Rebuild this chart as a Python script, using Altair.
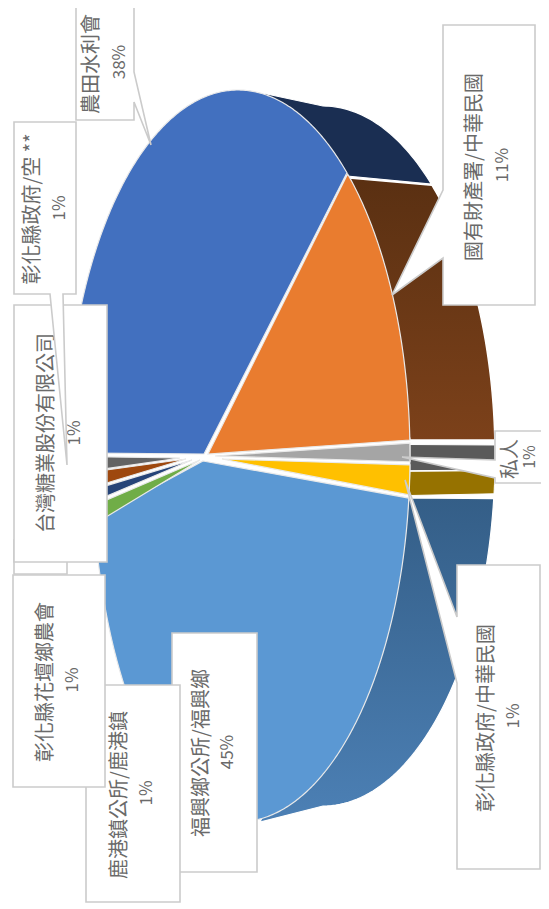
import numpy as np
import pandas as pd
import altair as alt

# ---- chart values ----
owners = ["農田水利會", "國有財產署/中華民國", "私人", "彰化縣政府/中華民國", "福興鄉公所/福興鄉",
          "鹿港鎮公所/鹿港鎮", "彰化縣花壇鄉農會", "台灣糖業股份有限公司", "彰化縣政府/空 **"]
shares = ["38%", "11%", "1%", "1%", "45%", "1%", "1%", "1%", "1%"]

# slice boundaries on the rim, degrees clockwise from the right-hand point
top_names = ["blue", "orange", "gray", "yellow", "ltblue", "green", "navy", "brown", "dkgray"]
top_from = [180.5, 309.6, 358.0, 361.4, 366.6, 529.3, 532.8, 535.1, 537.7]
top_to = [309.3, 357.5, 360.9, 366.1, 530.0, 532.2, 534.7, 537.5, 539.9]
top_colors = ["#4270bf", "#e97c2f", "#a5a5a5", "#ffc000", "#5b98d3", "#70ad47", "#264478", "#9e480e", "#636363"]
apex_x = [204, 208, 215, 222, 203, 200, 192, 186, 180]
apex_y = [454, 454, 456, 459, 461, 460, 460, 459, 458]

wall_from = [270, 309.3, 358.2, 362.4, 367]
wall_to = [309.0, 357.4, 362.3, 366.2, 450]

CX, CY, A, B = 238, 456, 172, 366
WX, WA, WB = 323, 172, 350
LEFT_A = 146


def rim(t):
    r = np.radians(t)
    c, s = np.cos(r), np.sin(r)
    a = np.where((c < 0) & (s > 0), LEFT_A, A)
    return CX + a * c, CY + B * s


def wall(t):
    r = np.radians(t)
    return WX + WA * np.cos(r), CY + WB * np.sin(r)


def frame(xs, ys):
    return pd.DataFrame({"x": list(map(float, xs)), "y": list(map(float, ys)), "i": range(len(xs))})


X = alt.X("x:Q", scale=alt.Scale(domain=[8, 541]), axis=None)
Y = alt.Y("y:Q", scale=alt.Scale(domain=[903, 8]), axis=None)


def poly(xs, ys, fill, stroke, sw):
    return alt.Chart(frame(xs, ys)).mark_line(
        fill=fill, stroke=stroke, strokeWidth=sw, interpolate="linear-closed", clip=True
    ).encode(x=X, y=Y, order=alt.Order("i:Q"))


def label(x, y, text, size):
    d = pd.DataFrame({"x": [float(x)], "y": [float(y)], "t": [text]})
    return alt.Chart(d).mark_text(
        angle=270, fontSize=size, font="Noto Sans CJK TC", color="#6a6a6a", clip=False
    ).encode(x=X, y=Y, text="t:N")


def grad(c1, c2):
    return alt.Gradient(gradient="linear", x1=0, x2=0, y1=0, y2=1,
                        stops=[alt.GradientStop(color=c1, offset=0), alt.GradientStop(color=c2, offset=1)])


layers = []

# side walls
T = np.linspace(wall_from[0], wall_to[0], 40)
wx, wy = wall(T)
layers.append(poly(list(wx) + [347, 262], list(wy) + [176, 93], "#1a2e52", "#ffffff", 1.2))

T = np.linspace(wall_from[1], wall_to[1], 50)
wx, wy = wall(T)
layers.append(poly([349] + list(wx) + [410], [178] + list(wy) + [440], grad("#5a3012", "#7c411a"), "#ffffff", 1.5))

for k, col in ((2, "#5a5a5a"), (3, "#967200")):
    T = np.linspace(wall_from[k], wall_to[k], 6)
    wx, wy = wall(T)
    rx, ry = rim(np.array([wall_to[k], wall_from[k]]))
    layers.append(poly(list(wx) + list(rx), list(wy) + list(ry), col, "#ffffff", 1))

T = np.linspace(wall_from[4], wall_to[4], 60)
wx, wy = wall(T)
layers.append(poly([410] + list(wx) + [260], [498] + list(wy) + [822], grad("#345e87", "#4c80b5"), "#ffffff", 1.2))

# top surface
for n, a0, a1, col, ax, ay in zip(top_names, top_from, top_to, top_colors, apex_x, apex_y):
    T = np.linspace(a0, a1, max(int(abs(a1 - a0)) * 2, 4))
    rx, ry = rim(T)
    layers.append(poly([ax] + list(rx), [ay] + list(ry), col, "#e9e9e9", 1.2))

BOX = "#cbcbcb"


def box(xs, ys):
    return poly(xs, ys, "#ffffff", BOX, 1.6)


# partly hidden box behind the left column
layers.append(box([14, 67, 67, 14], [540, 540, 574, 574]))

# 福興鄉公所
layers.append(box([172, 257, 257, 172], [633, 633, 872, 872]))
layers.append(label(202, 753, owners[4], 20))
layers.append(label(228, 752, shares[4], 17))
# 鹿港鎮公所
layers.append(box([86, 180, 180, 86], [685, 685, 902, 902]))
layers.append(label(120, 795, owners[5], 20))
layers.append(label(147, 793, shares[5], 17))
# 花壇鄉農會
layers.append(box([13, 105, 105, 13], [575, 575, 787, 787]))
layers.append(label(46, 682, owners[6], 20))
layers.append(label(73, 680, shares[6], 17))
# 台灣糖業
layers.append(box([14, 107, 107, 14], [305, 305, 562, 562]))
layers.append(label(47, 433, owners[7], 20))
layers.append(label(75, 433, shares[7], 17))
# 彰化縣政府/空
layers.append(box([14, 76, 76, 63, 67, 50, 14], [122, 122, 294, 294, 465, 294, 294]))
layers.append(label(33, 209, owners[8], 20))
layers.append(label(60, 208, shares[8], 17))
# 農田水利會
layers.append(box([76, 134, 134, 151, 134, 134, 76], [-10, -10, 72, 145, 102, 120, 120]))
layers.append(label(92, 64, owners[0], 20))
layers.append(label(120, 62, shares[0], 17))
# 國有財產署
layers.append(box([443, 535, 535, 443, 443, 392, 443], [25, 25, 305, 305, 258, 295, 190]))
layers.append(label(475, 167, owners[1], 20))
layers.append(label(503, 165, shares[1], 17))
# 私人
layers.append(box([495, 560, 560, 495, 495, 402, 495], [431, 431, 483, 483, 478, 457, 460]))
layers.append(label(511, 459, owners[2], 20))
layers.append(label(530, 457, shares[2], 16))
# 彰化縣政府/中華民國
layers.append(box([457, 540, 540, 457, 457, 405, 457], [565, 565, 869, 869, 683, 480, 617]))
layers.append(label(487, 718, owners[3], 20))
layers.append(label(514, 716, shares[3], 17))

chart = alt.layer(*layers).properties(
    width=533, height=895, padding=0, autosize=alt.AutoSizeParams(type="none"),
    background="#ffffff"
).configure_view(stroke=None)

chart.save("out.html", embed_options={"renderer": "svg", "actions": False})
